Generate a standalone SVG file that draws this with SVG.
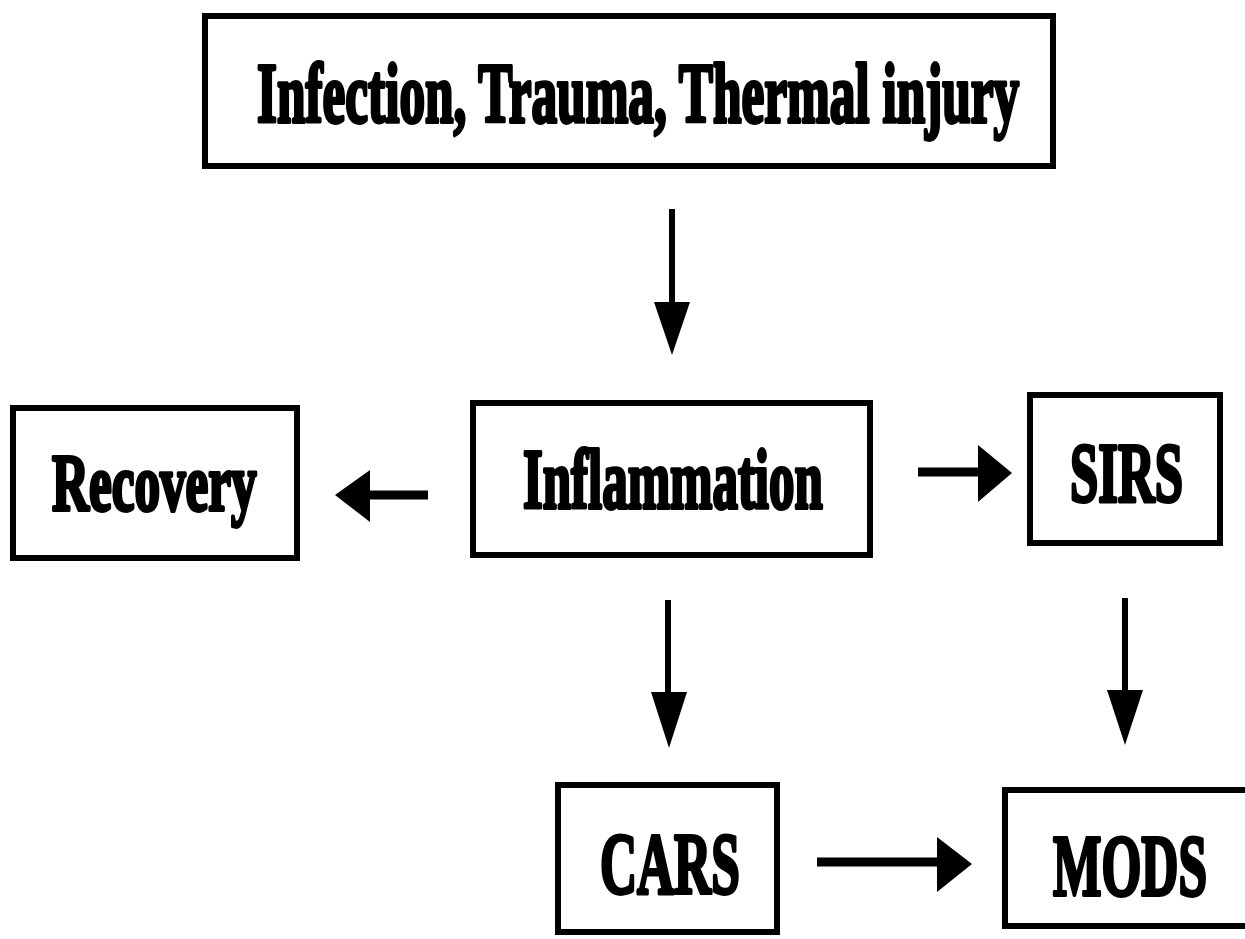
<svg xmlns="http://www.w3.org/2000/svg" width="1245" height="939" viewBox="0 0 1245 939">
<defs>
<style>
.box{fill:#fff;stroke:#000;stroke-width:6}
.lbl{font-family:"Liberation Serif","Times New Roman",serif;font-weight:bold;fill:#000;stroke:#000;stroke-width:3.8;stroke-linejoin:round;font-variant-ligatures:none}
.lv{stroke:#000;stroke-width:6;fill:none}
.lh{stroke:#000;stroke-width:9;fill:none}
.hd{fill:#000}
</style>
</defs>
<rect width="1245" height="939" fill="#fff"/>
<g id="n-infection">
<rect class="box" x="205" y="16" width="848" height="150"/>
<text class="lbl" font-size="85" transform="translate(257,122) scale(0.6035,1)">Infection, Trauma, Thermal injury</text>
</g>
<g id="n-recovery">
<rect class="box" x="13" y="408" width="284" height="150"/>
<text class="lbl" font-size="80" transform="translate(52,510) scale(0.64,1)">Recovery</text>
</g>
<g id="n-inflammation">
<rect class="box" x="473" y="403" width="397" height="152"/>
<text class="lbl" font-size="84" transform="translate(523,508) scale(0.606,1)">Inflammation</text>
</g>
<g id="n-sirs">
<rect class="box" x="1030" y="395" width="190" height="148"/>
<text class="lbl" font-size="85" transform="translate(1070,502) scale(0.598,1)">SIRS</text>
</g>
<g id="n-cars">
<rect class="box" x="558" y="785" width="219" height="147"/>
<text class="lbl" font-size="87" transform="translate(600,893) scale(0.59,1)">CARS</text>
</g>
<g id="n-mods">
<rect class="box" x="1005" y="790" width="250" height="136"/>
<text class="lbl" font-size="87" transform="translate(1053,895) scale(0.59,1)">MODS</text>
</g>
<g id="connectors">
<line class="lv" x1="672" y1="209" x2="672" y2="305"/>
<polygon class="hd" points="654,302 690,302 672,355"/>
<line class="lh" x1="428" y1="495" x2="365" y2="495"/>
<polygon class="hd" points="370,470 370,522 335,495"/>
<line class="lh" x1="918" y1="472" x2="980" y2="472"/>
<polygon class="hd" points="978,445 978,502 1012,473"/>
<line class="lv" x1="668" y1="600" x2="668" y2="695"/>
<polygon class="hd" points="651,692 687,692 669,748"/>
<line class="lv" x1="1125" y1="598" x2="1125" y2="695"/>
<polygon class="hd" points="1107,690 1143,690 1125,745"/>
<line class="lh" x1="817" y1="862" x2="940" y2="862"/>
<polygon class="hd" points="937,837 937,892 972,864"/>
</g>
</svg>
